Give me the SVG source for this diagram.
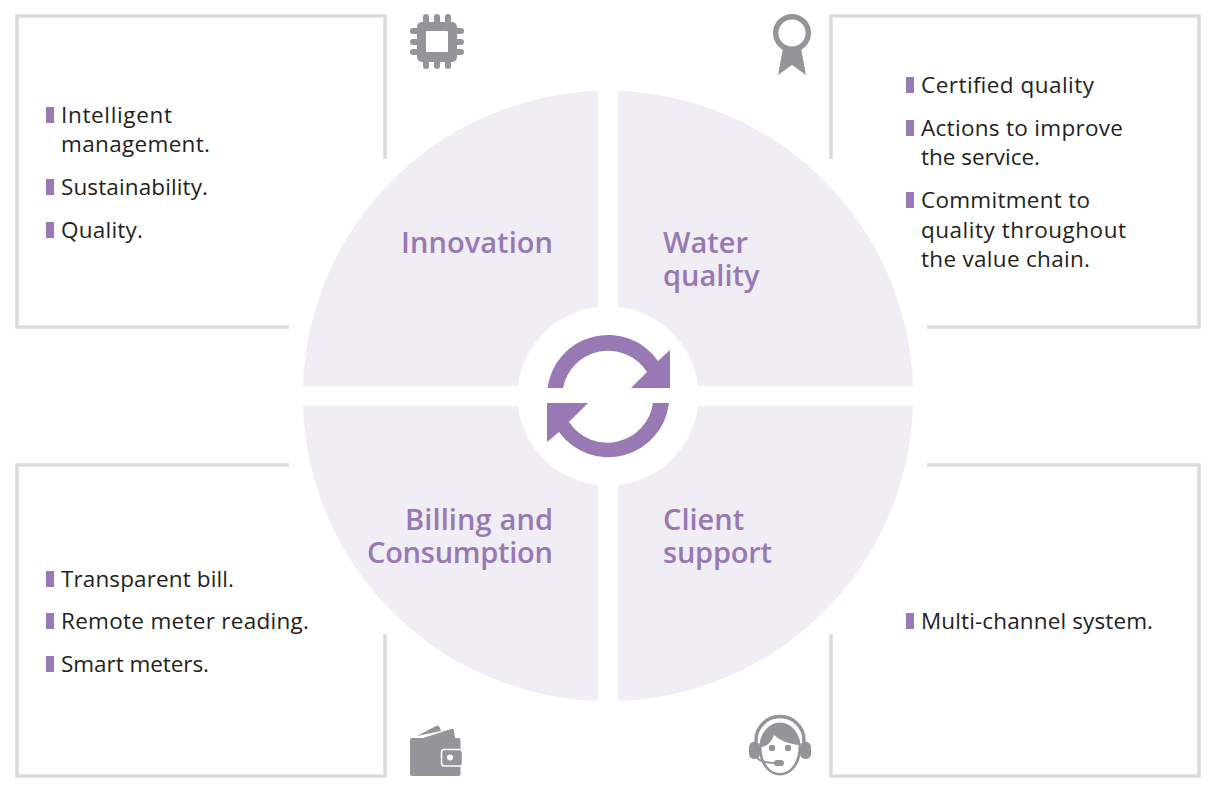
<svg xmlns="http://www.w3.org/2000/svg" width="1216" height="787" viewBox="0 0 1216 787">
<style>
.frame{fill:none;stroke:#dcdcde;stroke-width:3.6}
.quad{fill:#f0edf5}
.ic{fill:#939598}
.pin{stroke:#939598;stroke-width:6;stroke-linecap:round;fill:none}
.pur{fill:#9879b4}
.t{font-family:"Open Sans","Noto Sans",sans-serif;font-size:22.5px;fill:#231f20}
.h{font-family:"Open Sans","Noto Sans",sans-serif;font-size:29px;font-weight:600;fill:#9879b4}
</style>
<rect width="1216" height="787" fill="#fff"/>
<g id="connectors">
<path class="frame" d="M289 327H17V16H385V159"/>
<path class="frame" d="M831 159V16H1199V327H927"/>
<path class="frame" d="M289 465H17V776H385V634"/>
<path class="frame" d="M927 465H1199V776H831V634"/>
</g>
<g id="hub">
<path class="quad" d="M598 91A305 305 0 0 0 303 386H518A90 90 0 0 1 598 307Z"/>
<path class="quad" d="M618 91A305 305 0 0 1 913 386H698A90 90 0 0 0 618 307Z"/>
<path class="quad" d="M598 701A305 305 0 0 1 303 406H518A90 90 0 0 0 598 485Z"/>
<path class="quad" d="M618 701A305 305 0 0 0 913 406H698A90 90 0 0 1 618 485Z"/>
<path class="pur" d="M547.500 388A61 61 0 0 1 658 361L670 350V388H631L647 372A46 46 0 0 0 563 388Z"/>
<path class="pur" d="M669 403A61 61 0 0 1 559 432L547 442V403H588L569 422A46 46 0 0 0 653 403Z"/>
</g>
<g id="node-innovation">
<text class="h" x="401" y="253" textLength="152">Innovation</text>
<g id="icon-chip">
<path class="pin" d="M426 17V66M437 17V66M448 17V66M413 31H461M413 42H461M413 52H461"/>
<rect class="ic" x="417" y="22" width="40" height="40" rx="5"/>
<rect x="426" y="31" width="22" height="21" rx="1" fill="#fff"/>
</g>
<rect class="pur" x="46" y="107" width="8" height="16"/>
<text class="t" x="61" y="123" textLength="111">Intelligent</text>
<text class="t" x="61" y="152" textLength="149">management.</text>
<rect class="pur" x="46" y="179" width="8" height="16"/>
<text class="t" x="61" y="195" textLength="147">Sustainability.</text>
<rect class="pur" x="46" y="222" width="8" height="16"/>
<text class="t" x="61" y="238" textLength="82">Quality.</text>
</g>
<g id="node-water-quality">
<text class="h" x="663" y="253">Water</text>
<text class="h" x="663" y="286">quality</text>
<g id="icon-ribbon">
<circle cx="792" cy="33" r="16.300" fill="none" stroke="#939598" stroke-width="5.400"/>
<path class="ic" d="M783 48H801L806 75L792 65L778 75Z"/>
</g>
<rect class="pur" x="906" y="77" width="8" height="16"/>
<text class="t" x="921" y="93" textLength="173">Certified quality</text>
<rect class="pur" x="906" y="120" width="8" height="16"/>
<text class="t" x="921" y="136" textLength="202">Actions to improve</text>
<text class="t" x="921" y="165" textLength="119">the service.</text>
<rect class="pur" x="906" y="192" width="8" height="16"/>
<text class="t" x="921" y="208" textLength="169">Commitment to</text>
<text class="t" x="921" y="238" textLength="205">quality throughout</text>
<text class="t" x="921" y="267" textLength="169">the value chain.</text>
</g>
<g id="node-billing">
<text class="h" x="405" y="530" textLength="148">Billing and</text>
<text class="h" x="367" y="563" textLength="186">Consumption</text>
<g id="icon-wallet">
<path class="ic" d="M417 736L436 726Q439 725 440 728L441 731ZM423 738L451 729Q454 728 454 731L455 738Z"/>
<rect class="ic" x="410" y="738" width="50.500" height="38" rx="2"/>
<rect class="ic" x="441.500" y="749.500" width="21" height="16.500" rx="3" stroke="#fff" stroke-width="1.500"/>
<circle cx="450" cy="757.500" r="3" fill="#fff"/>
</g>
<rect class="pur" x="46" y="571" width="8" height="16"/>
<text class="t" x="61" y="587" textLength="173">Transparent bill.</text>
<rect class="pur" x="46" y="613" width="8" height="16"/>
<text class="t" x="61" y="629" textLength="248">Remote meter reading.</text>
<rect class="pur" x="46" y="656" width="8" height="16"/>
<text class="t" x="61" y="672" textLength="148">Smart meters.</text>
</g>
<g id="node-client-support">
<text class="h" x="663" y="530">Client</text>
<text class="h" x="663" y="563" textLength="109">support</text>
<g id="icon-headset">
<path d="M756 746V740A24 23.500 0 0 1 804 740V746" fill="none" stroke="#939598" stroke-width="3.500"/>
<rect class="ic" x="749" y="742" width="11" height="17" rx="5"/>
<rect class="ic" x="800" y="742" width="11" height="17" rx="5"/>
<ellipse class="ic" cx="780" cy="749" rx="21" ry="26.500"/>
<path d="M761.500 747C768 746 772 741 774 735C780 741 790 744 798.500 745C799 761 791 773 780 773C769 773 761.500 761 761.500 747Z" fill="#fff"/>
<circle class="ic" cx="772" cy="748" r="3.200"/>
<circle class="ic" cx="788" cy="748" r="3.200"/>
<path d="M757 758Q762 763 776 763" fill="none" stroke="#939598" stroke-width="2"/>
<rect class="ic" x="774" y="760" width="10" height="6" rx="3"/>
</g>
<rect class="pur" x="906" y="613" width="8" height="16"/>
<text class="t" x="921" y="629" textLength="232">Multi-channel system.</text>
</g>
</svg>
